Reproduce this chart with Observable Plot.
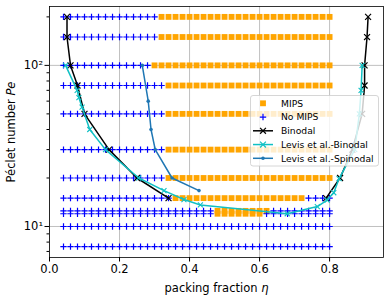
<!DOCTYPE html>
<html><head><meta charset="utf-8">
<script src="https://cdn.jsdelivr.net/npm/d3@7"></script>
<script src="https://cdn.jsdelivr.net/npm/@observablehq/plot@0.6"></script>
<style>
body{margin:0;background:#fff}
#wrap{position:relative;width:390px;height:297px}
</style>
</head><body><div id="wrap"></div>
<script>
// ---- data ----
const etaGrid = [0.04,0.06,0.08,0.10,0.12,0.14,0.16,0.18,0.20,0.22,0.24,0.26,0.28,0.30,0.32,0.34,0.36,0.38,0.40,0.42,0.44,0.46,0.48,0.50,0.52,0.54,0.56,0.58,0.60,0.62,0.64,0.66,0.68,0.70,0.72,0.74,0.76,0.78,0.80];
const peRows = [200,150,100,75,50,30,20,15,12.5,12,10,7.5];
// [Pe, first MIPS eta, last MIPS eta]
const mipsRanges = [[200,0.32,0.80],[150,0.32,0.80],[100,0.30,0.80],[75,0.34,0.80],[50,0.34,0.80],[30,0.34,0.80],[20,0.34,0.80],[15,0.36,0.72],[12.5,0.48,0.62],[12,0.48,0.60]];
const binodalLeftEta = [0.05,0.05,0.06,0.08,0.10,0.17,0.25,0.34];
const binodalLeftPe  = [200,150,100,75,50,30,20,15];
const binodalRightEta = [0.79,0.83,0.865,0.893,0.90,0.90,0.907,0.91];
const binodalRightPe  = [15,20,30,50,75,100,150,200];
const levisBinEta = [0.046,0.079,0.084,0.093,0.115,0.16,0.255,0.327,0.384,0.431,0.679,0.765,0.793,0.812,0.827,0.872,0.885,0.890,0.893];
const levisBinPe  = [100,70,63,55,40,30,20,16.7,14.7,13.6,12.0,13.3,14.6,16.2,19.8,30,50,70,100];
const levisSpinEta = [0.265,0.282,0.29,0.302,0.35,0.427];
const levisSpinPe  = [100,60,40,30,20,16.7];
const xTicks = [0.0,0.2,0.4,0.6,0.8];
const yMajor = [10,100];
const yMinor = [7,8,9,20,30,40,50,60,70,80,90,200];

// ---- build tables ----
const states = [];
for (const pe of peRows) {
  const r = mipsRanges.find(m => m[0] === pe);
  for (const eta of etaGrid) {
    const mips = r ? (eta >= r[1] - 1e-9 && eta <= r[2] + 1e-9) : false;
    states.push({eta, pe, mips});
  }
}
const mipsPts = states.filter(d => d.mips);
const noMipsPts = states.filter(d => !d.mips);
const binodal = [
  ...binodalLeftEta.map((e,i)=>({eta:e, pe:binodalLeftPe[i], branch:"L"})),
  ...binodalRightEta.map((e,i)=>({eta:e, pe:binodalRightPe[i], branch:"R"}))
];
const levisBin = levisBinEta.map((e,i)=>({eta:e, pe:levisBinPe[i]}));
const levisSpin = levisSpinEta.map((e,i)=>({eta:e, pe:levisSpinPe[i]}));

const CYAN = "#10c0c4", SPIN = "#1f77b4";

const chart = Plot.plot({
  width: 390, height: 297,
  marginLeft: 49, marginRight: 7, marginTop: 6, marginBottom: 40,
  x: {domain: [0, 0.954]},
  y: {type: "log", domain: [6.42, 232]},
  style: {fontFamily: "DejaVu Sans", fontSize: "11.5px", background: "white", color: "black"},
  marks: [
    Plot.ruleX(xTicks, {x: d => d, stroke: "#b0b0b0", strokeWidth: 0.8}),
    Plot.ruleY(yMajor, {y: d => d, stroke: "#b0b0b0", strokeWidth: 0.8}),
    Plot.dot(mipsPts, {x: "eta", y: "pe", symbol: "square", fill: "orange", r: 3.3}),
    Plot.dot(noMipsPts, {x: "eta", y: "pe", symbol: "plus", stroke: "blue", r: 2.2, strokeWidth: 1.2}),
    Plot.line(binodal, {x: "eta", y: "pe", z: "branch", stroke: "black", strokeWidth: 1.5}),
    Plot.dot(binodal, {x: "eta", y: "pe", symbol: "times", stroke: "black", r: 2.8, strokeWidth: 1.2}),
    Plot.line(levisBin, {x: "eta", y: "pe", stroke: CYAN, strokeWidth: 1.5}),
    Plot.dot(levisBin, {x: "eta", y: "pe", symbol: "times", stroke: CYAN, r: 2.4, strokeWidth: 1.1}),
    Plot.line(levisSpin, {x: "eta", y: "pe", stroke: SPIN, strokeWidth: 1.5}),
    Plot.dot(levisSpin, {x: "eta", y: "pe", fill: SPIN, r: 1.8}),
    Plot.frame({stroke: "black", strokeWidth: 0.8}),
    Plot.axisX({ticks: xTicks, tickFormat: d => d.toFixed(1), tickSize: 4.5, tickPadding: 3,
      label: "packing fraction η", labelAnchor: "center", labelArrow: "none", labelOffset: 34}),
    Plot.axisY({ticks: yMajor, tickFormat: d => d === 10 ? "10¹" : "10²", tickSize: 4.5, tickPadding: 2,
      label: "Péclet number Pe", labelAnchor: "center", labelArrow: "none", labelOffset: 43}),
    Plot.axisY({ticks: yMinor, tickFormat: () => "", tickSize: 2.5, label: null})
  ]
});
document.getElementById("wrap").appendChild(chart);

// italic math symbols in labels
d3.select(chart).selectAll("text").each(function(){
  const t = this.textContent;
  if (t === "packing fraction η" || t === "Péclet number Pe") {
    const sel = d3.select(this);
    const [plain, it] = t === "packing fraction η" ? ["packing fraction\u00a0","η"] : ["Péclet number\u00a0","Pe"];
    sel.text(null);
    sel.append("tspan").text(plain);
    sel.append("tspan").attr("font-style","italic").text(it);
  }
});

// legend overlay
const items = [
  {label:"MIPS", kind:"square", color:"orange", line:false},
  {label:"No MIPS", kind:"plus", color:"blue", line:false},
  {label:"Binodal", kind:"times", color:"black", line:true},
  {label:"Levis et al.-Binodal", kind:"times", color:CYAN, line:true},
  {label:"Levis et al.-Spinodal", kind:"dot", color:SPIN, line:true}
];
const lg = d3.select("#wrap").append("svg").attr("width",390).attr("height",297)
  .style("position","absolute").style("left","0").style("top","0").style("pointer-events","none");
lg.append("rect").attr("x",250.5).attr("y",95.5).attr("width",128).attr("height",70.5).attr("rx",2.5)
  .attr("fill","white").attr("fill-opacity",0.8).attr("stroke","#cccccc").attr("stroke-width",0.8);
items.forEach((it,i)=>{
  const cy = 103.3 + i*13.75;
  const g = lg.append("g");
  if (it.line) g.append("line").attr("x1",253).attr("x2",273).attr("y1",cy).attr("y2",cy).attr("stroke",it.color).attr("stroke-width",1.5);
  if (it.kind === "square") g.append("path").attr("d", d3.symbol(d3.symbolSquare, 34)()).attr("transform",`translate(263,${cy})`).attr("fill",it.color);
  if (it.kind === "plus") g.append("path").attr("d", d3.symbol(d3.symbolPlus, 15.3)()).attr("transform",`translate(263,${cy})`).attr("fill","none").attr("stroke",it.color).attr("stroke-width",1.2);
  if (it.kind === "times") g.append("path").attr("d", d3.symbol(d3.symbolTimes, 24)()).attr("transform",`translate(263,${cy})`).attr("fill","none").attr("stroke",it.color).attr("stroke-width",1.2);
  if (it.kind === "dot") g.append("circle").attr("cx",263).attr("cy",cy).attr("r",1.8).attr("fill",it.color);
  g.append("text").attr("x",281).attr("y",cy+3.3).attr("font-family","DejaVu Sans").attr("font-size","9.2px").attr("fill","black").text(it.label);
});
</script></body></html>
